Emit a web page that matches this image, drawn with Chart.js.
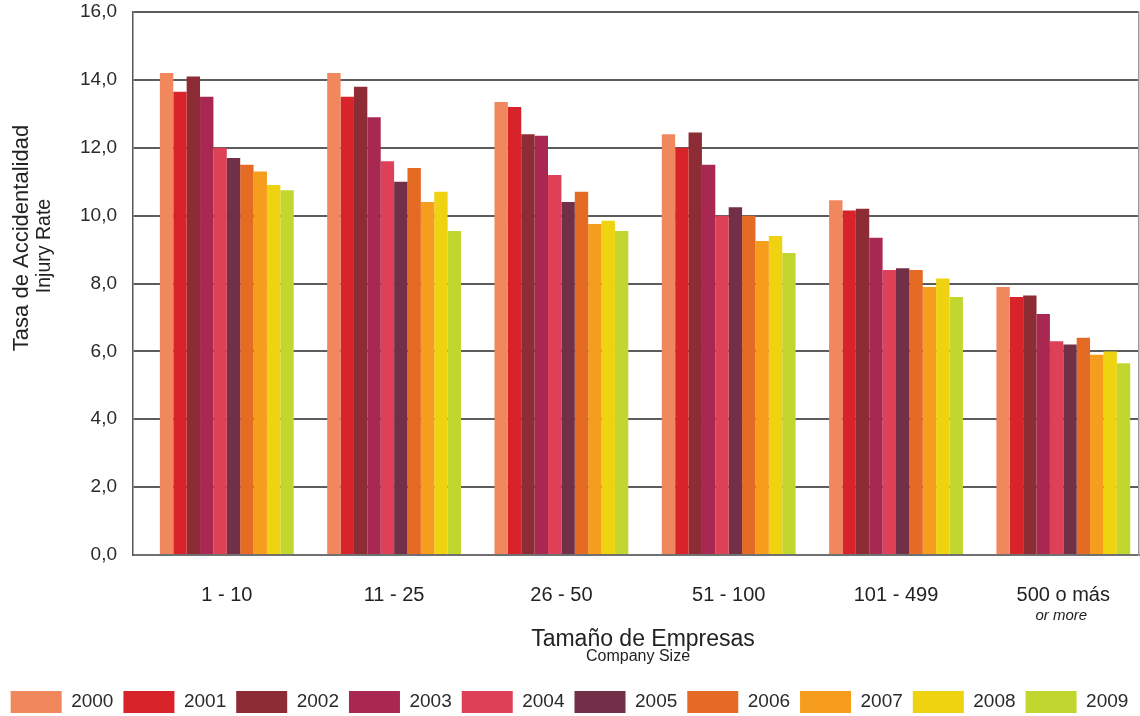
<!DOCTYPE html>
<html>
<head>
<meta charset="utf-8">
<script src="https://cdn.jsdelivr.net/npm/chart.js@4/dist/chart.umd.min.js"></script>
<style>
  html, body { margin: 0; padding: 0; background: #ffffff; }
  #wrap { width: 1140px; height: 716px; position: relative; }
</style>
</head>
<body>
<div id="wrap"><canvas id="c" width="1140" height="716"></canvas></div>
<script>
// ---- data ----
const categories = ['1 - 10', '11 - 25', '26 - 50', '51 - 100', '101 - 499', '500 o más'];
const years = ['2000', '2001', '2002', '2003', '2004', '2005', '2006', '2007', '2008', '2009'];
const y2000 = [14.2, 14.2, 13.35, 12.4, 10.45, 7.9];
const y2001 = [13.65, 13.5, 13.2, 12.0, 10.15, 7.6];
const y2002 = [14.1, 13.8, 12.4, 12.45, 10.2, 7.65];
const y2003 = [13.5, 12.9, 12.35, 11.5, 9.35, 7.1];
const y2004 = [12.0, 11.6, 11.2, 10.0, 8.4, 6.3];
const y2005 = [11.7, 11.0, 10.4, 10.25, 8.45, 6.2];
const y2006 = [11.5, 11.4, 10.7, 10.0, 8.4, 6.4];
const y2007 = [11.3, 10.4, 9.75, 9.25, 7.9, 5.9];
const y2008 = [10.9, 10.7, 9.85, 9.4, 8.15, 6.0];
const y2009 = [10.75, 9.55, 9.55, 8.9, 7.6, 5.65];
const yTickLabels = ['0,0', '2,0', '4,0', '6,0', '8,0', '10,0', '12,0', '14,0', '16,0'];
const yTitleLines = ['Tasa de Accidentalidad', 'Injury Rate'];
const xTitle = 'Tamaño de Empresas';
const xSubtitle = 'Company Size';
const lastCategoryNote = 'or more';

const seriesValues = [y2000, y2001, y2002, y2003, y2004, y2005, y2006, y2007, y2008, y2009];
const colors = ['#F0875D', '#D8232A', '#8E2C35', '#A82852', '#DE4058', '#722F48', '#E56B24', '#F69D1E', '#F0D310', '#C1D72F'];

const FONT = '"Liberation Sans", Arial, Helvetica, sans-serif';

const datasets = years.map((yr, i) => ({
  label: yr,
  data: seriesValues[i].map((v, j) => ({ x: j, y: v })),
  backgroundColor: colors[i],
  borderWidth: 0,
  categoryPercentage: 0.8,
  barPercentage: 1.0
}));

const textPlugin = {
  id: 'extraTexts',
  afterDraw(chart) {
    const ctx = chart.ctx;
    const xs = chart.scales.x;
    ctx.save();
    ctx.fillStyle = '#222222';
    ctx.textAlign = 'center';
    ctx.textBaseline = 'alphabetic';
    ctx.font = '23px ' + FONT;
    ctx.fillText(xTitle, 643, 646);
    ctx.font = '16px ' + FONT;
    ctx.fillText(xSubtitle, 638, 661);
    ctx.font = 'italic 15px ' + FONT;
    ctx.fillText(lastCategoryNote, xs.getPixelForValue(categories.length - 1) - 2, 620);
    ctx.save();
    ctx.font = '22px ' + FONT;
    ctx.translate(28, 238);
    ctx.rotate(-Math.PI / 2);
    ctx.fillText(yTitleLines[0], 0, 0);
    ctx.restore();
    ctx.save();
    ctx.font = '19.5px ' + FONT;
    ctx.translate(50, 246);
    ctx.rotate(-Math.PI / 2);
    ctx.fillText(yTitleLines[1], 0, 0);
    ctx.restore();
    ctx.restore();
  }
};

new Chart(document.getElementById('c'), {
  type: 'bar',
  data: { datasets },
  plugins: [textPlugin],
  options: {
    responsive: false,
    animation: false,
    layout: { padding: { left: 0, right: 1, top: 12, bottom: 0 } },
    plugins: {
      tooltip: { enabled: false },
      title: { display: false },
      legend: {
        position: 'bottom',
        align: 'center',
        maxHeight: 35,
        labels: {
          boxWidth: 51,
          boxHeight: 22,
          padding: 10,
          color: '#2a2a2a',
          font: { family: FONT, size: 19 }
        }
      }
    },
    scales: {
      x: {
        type: 'linear',
        min: -0.5607,
        max: 5.4525,
        offset: false,
        afterBuildTicks(scale) {
          scale.ticks = scale.ticks.filter(t => Number.isInteger(t.value) && t.value >= 0 && t.value < categories.length);
        },
        afterFit(scale) { scale.height = 126; scale.paddingLeft = 0; scale.paddingRight = 0; },
        grid: { display: false, drawTicks: false },
        border: { display: true, color: '#707070', width: 2 },
        ticks: {
          stepSize: 1,
          includeBounds: false,
          autoSkip: false,
          maxRotation: 0,
          padding: 28,
          color: '#222222',
          font: { family: FONT, size: 20 },
          callback: (v) => categories[v]
        }
      },
      y: {
        min: 0,
        max: 16,
        afterFit(scale) { scale.width = 133; scale.paddingTop = 0; scale.paddingBottom = 0; },
        grid: { color: '#5c5c5c', lineWidth: 2, drawTicks: false },
        border: { display: true, color: '#555555', width: 1.5 },
        ticks: {
          stepSize: 2,
          padding: 16,
          color: '#2a2a2a',
          font: { family: FONT, size: 19 },
          callback: (v, i) => yTickLabels[i]
        }
      },
      yRight: {
        position: 'right',
        display: true,
        min: 0,
        max: 16,
        afterFit(scale) { scale.width = 0; scale.paddingTop = 0; scale.paddingBottom = 0; },
        grid: { display: false, drawTicks: false },
        border: { display: true, color: '#9a9a9a', width: 1.5 },
        ticks: { display: false }
      }
    }
  }
});
</script>
</body>
</html>
